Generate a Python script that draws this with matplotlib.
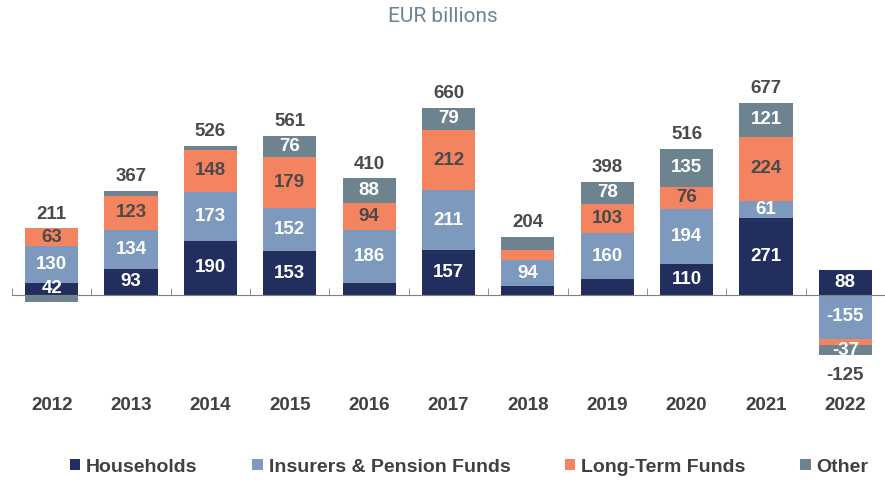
import matplotlib
matplotlib.use("Agg")
import matplotlib.pyplot as plt
from matplotlib.patches import Patch
import numpy as np

years = ["2012", "2013", "2014", "2015", "2016", "2017", "2018", "2019", "2020", "2021", "2022"]
households = [42, 93, 190, 153, 42, 157, 30, 57, 110, 271, 88]
insurers = [130, 134, 173, 152, 186, 211, 94, 160, 194, 61, -155]
long_term = [63, 123, 148, 179, 94, 212, 34, 103, 76, 224, -21]
other = [-24, 17, 15, 76, 88, 79, 46, 78, 135, 121, -37]
totals = [211, 367, 526, 561, 410, 660, 204, 398, 516, 677, -125]
# segments whose value is not printed in the reference
unlabeled = {("Households", "2016"), ("Households", "2018"), ("Households", "2019"),
             ("Long-Term Funds", "2018"), ("Long-Term Funds", "2022"),
             ("Other", "2012"), ("Other", "2013"), ("Other", "2014"), ("Other", "2018")}

series = [
    ("Households", households, "#222f5e", "white"),
    ("Insurers & Pension Funds", insurers, "#7d99bd", "white"),
    ("Long-Term Funds", long_term, "#f4845f", "#4a4a4a"),
    ("Other", other, "#6e8390", "white"),
]

plt.rcParams['font.family'] = ['Liberation Sans', 'DejaVu Sans']
FS = 13.5

fig = plt.figure(figsize=(8.85, 4.8), dpi=100)
ax = fig.add_axes([12/885, 0.25, (885-12)/885, 0.625])
x = np.arange(len(years))
w = 0.67
pos_base = np.zeros(len(years))
neg_base = np.zeros(len(years))
for name, vals, col, tcol in series:
    vals = np.array(vals, dtype=float)
    bottoms = np.where(vals >= 0, pos_base, neg_base)
    ax.bar(x, vals, w, bottom=bottoms, color=col, label=name, zorder=2)
    for i, v in enumerate(vals):
        if (name, years[i]) not in unlabeled:
            ax.text(x[i], bottoms[i] + v / 2, f"{int(v)}", ha="center", va="center",
                    color=tcol, fontsize=FS, fontweight="bold", zorder=3)
    pos_base = pos_base + np.where(vals >= 0, vals, 0)
    neg_base = neg_base + np.where(vals < 0, vals, 0)

for i, t in enumerate(totals):
    if t >= 0:
        ax.annotate(f"{t}", (x[i], pos_base[i]), xytext=(0, 4), textcoords="offset points",
                    ha="center", va="bottom", color="#4a4a4a", fontsize=FS, fontweight="bold")
    else:
        ax.annotate(f"{t}", (x[i], neg_base[i]), xytext=(0, -8), textcoords="offset points",
                    ha="center", va="top", color="#4a4a4a", fontsize=FS, fontweight="bold")

ax.set_xlim(-0.5, 10.37)
ax.set_ylim(-229, 827)
for s in ["top", "right", "left"]:
    ax.spines[s].set_visible(False)
ax.spines["bottom"].set_position(("data", 0))
ax.spines["bottom"].set_color("#808080")
ax.set_yticks([])
ax.set_xticks([])
ax.set_xticks(np.arange(-0.5, 10.6, 1.0), minor=True)
ax.tick_params(axis="x", which="minor", direction="in", length=5, color="#808080")
ax.tick_params(axis="x", which="major", length=0)

trans = matplotlib.transforms.blended_transform_factory(ax.transData, fig.transFigure)
for i, y in enumerate(years):
    ax.text(x[i], 1 - 405/480, y, ha="center", va="center", transform=trans,
            color="#404040", fontsize=FS, fontweight="bold")

fig.text(0.5, 1 - 16/480, "EUR billions", ha="center", va="center",
         color="#6e8390", fontsize=15, family=["Roboto", "DejaVu Sans"])

handles = [Patch(facecolor=c) for _, _, c, _ in series]
labels = [n for n, _, _, _ in series]
leg = fig.legend(handles, labels, loc="center", bbox_to_anchor=(0.53, 1 - 467/480), ncol=4,
                 frameon=False, handlelength=0.55, handleheight=0.55, handletextpad=0.3,
                 columnspacing=2.8, prop={"weight": "bold", "size": 14})
for t in leg.get_texts():
    t.set_color("#404040")

fig.savefig("out.png", dpi=100)
